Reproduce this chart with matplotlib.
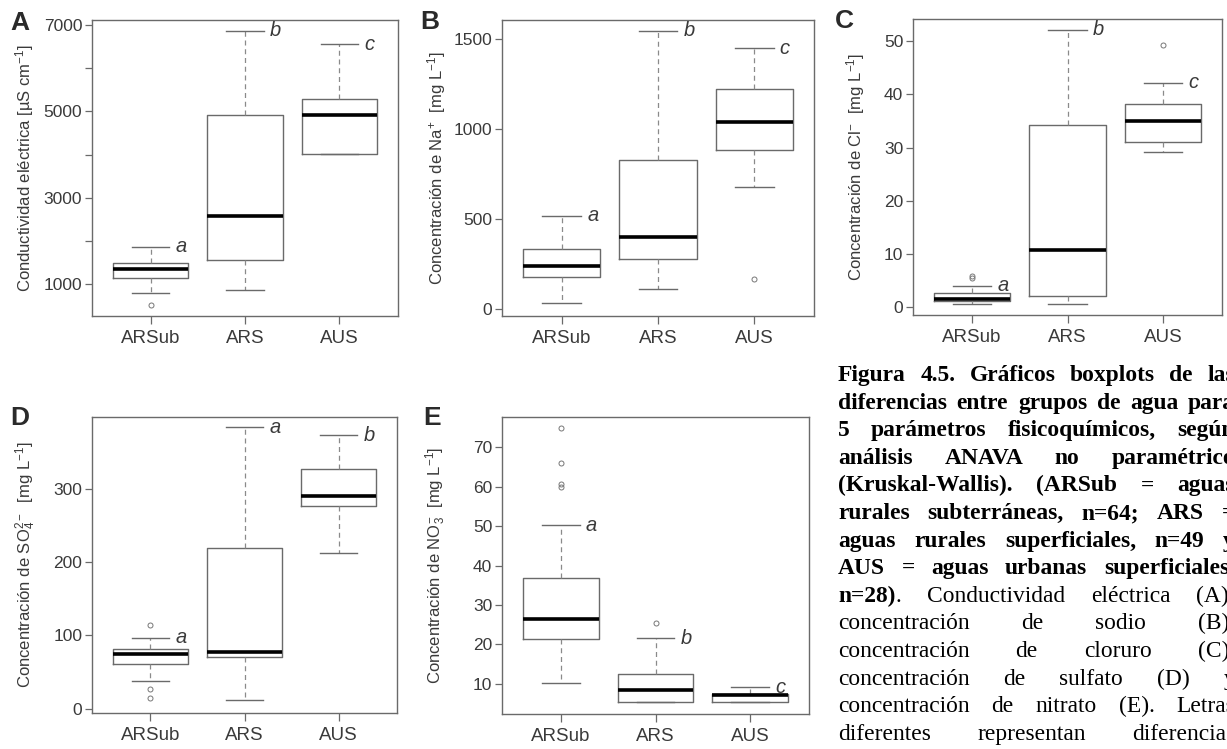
import matplotlib as mpl
mpl.use('Agg')
import matplotlib.pyplot as plt

mpl.rcParams['font.family'] = ['Liberation Sans', 'DejaVu Sans']
mpl.rcParams['mathtext.fontset'] = 'custom'
mpl.rcParams['mathtext.rm'] = 'Liberation Sans'
mpl.rcParams['mathtext.it'] = 'Liberation Sans:italic'

groups = ['ARSub', 'ARS', 'AUS']

# A - conductividad electrica
ce_lo = [799, 854, 4007]
ce_q1 = [1131, 1563, 4007]
ce_med = [1354, 2574, 4917]
ce_q3 = [1493, 4912, 5287]
ce_hi = [1863, 6868, 6553]
ce_out = [[514], [], []]
ce_let = ['a', 'b', 'c']

# B - sodio
na_lo = [33, 114, 681]
na_q1 = [181, 281, 883]
na_med = [242, 400, 1039]
na_q3 = [333, 829, 1222]
na_hi = [520, 1548, 1450]
na_out = [[], [], [167]]
na_let = ['a', 'b', 'c']

# C - cloruro
cl_lo = [0.64, 0.64, 29.1]
cl_q1 = [1.08, 2.08, 31.1]
cl_med = [1.45, 10.7, 35.1]
cl_q3 = [2.64, 34.3, 38.2]
cl_hi = [4.04, 52.2, 42.2]
cl_out = [[5.5, 5.8], [], [49.4]]
cl_let = ['a', 'b', 'c']

# D - sulfato
so4_lo = [38, 11.4, 212.5]
so4_q1 = [61, 70.7, 276]
so4_med = [75, 77.5, 289.6]
so4_q3 = [81, 219, 327]
so4_hi = [97, 384, 373]
so4_out = [[114, 27, 14], [], []]
so4_let = ['a', 'a', 'b']

# E - nitrato
no3_lo = [10.2, 5.3, 5.3]
no3_q1 = [21.4, 5.35, 5.3]
no3_med = [26.3, 8.3, 7.2]
no3_q3 = [36.7, 12.4, 7.5]
no3_hi = [50.2, 21.5, 9.15]
no3_out = [[74.9, 66.0, 60.7, 60.0], [25.5], []]
no3_let = ['a', 'b', 'c']

W, H = 1227, 749
fig = plt.figure(figsize=(W / 100, H / 100), dpi=100)
fig.patch.set_facecolor('white')

GREY = '#6a6a6a'
TXT = '#3a3a3a'


def px_axes(l, t, r, b):
    return fig.add_axes([l / W, 1 - b / H, (r - l) / W, (b - t) / H])


def panel(box, lo, q1, med, q3, hi, out, lets, ylim, yticks, ylabels, ylab, labx, tag, tagpos):
    ax = px_axes(*box)
    stats = []
    for i in range(3):
        stats.append(dict(whislo=lo[i], q1=q1[i], med=med[i], q3=q3[i], whishi=hi[i], fliers=out[i]))
    ax.bxp(stats, positions=[1, 2, 3], widths=0.8, capwidths=0.4, showfliers=True,
           boxprops=dict(color=GREY, lw=1.0),
           medianprops=dict(color='black', lw=2.6, solid_capstyle='butt'),
           whiskerprops=dict(color='#8a8a8a', lw=0.9, linestyle=(0, (4, 3))),
           capprops=dict(color=GREY, lw=1.0),
           flierprops=dict(marker='o', markersize=3.6, markerfacecolor='none',
                           markeredgecolor='#777777', markeredgewidth=0.7))
    for i in range(3):
        ax.text(i + 1 + 0.265, hi[i], lets[i], style='italic', fontsize=14.5,
                color=TXT, ha='left', va='center')
    ax.set_xlim(0.38, 3.62)
    ax.set_ylim(*ylim)
    ax.set_yticks(yticks)
    ax.set_yticklabels(ylabels)
    ax.set_xticks([1, 2, 3])
    ax.set_xticklabels(groups)
    ax.tick_params(axis='y', direction='out', length=5, width=0.9, color=GREY,
                   labelsize=12.5, labelcolor=TXT, pad=2)
    ax.tick_params(axis='x', direction='out', length=6, width=0.9, color=GREY,
                   labelsize=13.5, labelcolor=TXT, pad=4)
    for s in ax.spines.values():
        s.set_color(GREY)
        s.set_linewidth(1.0)
    ax.set_ylabel(ylab, fontsize=12, color=TXT)
    ax.yaxis.label.set_va('center')
    ax.yaxis.set_label_coords((labx - box[0]) / (box[2] - box[0]), 0.5)
    fig.text(tagpos[0] / W, 1 - tagpos[1] / H, tag, fontsize=19, fontweight='bold',
             color='#2a2a2a', ha='left', va='baseline')
    return ax


unit = r'  [mg L$^{\mathregular{-1}}$]'
panel((92, 20, 398, 316), ce_lo, ce_q1, ce_med, ce_q3, ce_hi, ce_out, ce_let,
      (260, 7115), [1000, 2000, 3000, 4000, 5000, 6000, 7000],
      ['1000', '', '3000', '', '5000', '', '7000'],
      r'Conductividad eléctrica [µS cm$^{\mathregular{-1}}$]', 25, 'A', (10, 30))
panel((502, 20, 814, 316), na_lo, na_q1, na_med, na_q3, na_hi, na_out, na_let,
      (-37, 1607), [0, 500, 1000, 1500], ['0', '500', '1000', '1500'],
      r'Concentración de Na$^{\mathregular{+}}$' + unit, 437, 'B', (420, 29))
panel((913, 19, 1222, 315), cl_lo, cl_q1, cl_med, cl_q3, cl_hi, cl_out, cl_let,
      (-1.5, 54.2), [0, 10, 20, 30, 40, 50], ['0', '10', '20', '30', '40', '50'],
      r'Concentración de Cl$^{\mathregular{-}}$' + unit, 856, 'C', (835, 28))
panel((92, 417, 397, 713), so4_lo, so4_q1, so4_med, so4_q3, so4_hi, so4_out, so4_let,
      (-6, 398), [0, 100, 200, 300], ['0', '100', '200', '300'],
      r'Concentración de SO$_{\mathregular{4}}^{\mathregular{2-}}$' + unit, 26, 'D', (10, 425))
panel((502, 417, 809, 714), no3_lo, no3_q1, no3_med, no3_q3, no3_hi, no3_out, no3_let,
      (2.3, 77.7), [10, 20, 30, 40, 50, 60, 70], ['10', '20', '30', '40', '50', '60', '70'],
      r'Concentración de NO$_{\mathregular{3}}^{\mathregular{-}}$' + unit, 436, 'E', (423, 425))

# caption (justified, runs past the right edge like the source page)
B, R = 'bold', 'normal'
caption = [
    [[('Figura', B)], [('4.5.', B)], [('Gráficos', B)], [('boxplots', B)], [('de', B)], [('las', B)]],
    [[('diferencias', B)], [('entre', B)], [('grupos', B)], [('de', B)], [('agua', B)], [('para', B)]],
    [[('5', B)], [('parámetros', B)], [('fisicoquímicos,', B)], [('según', B)]],
    [[('análisis', B)], [('ANAVA', B)], [('no', B)], [('paramétrico', B)]],
    [[('(Kruskal-Wallis).', B)], [('(ARSub', B)], [('=', B)], [('aguas', B)]],
    [[('rurales', B)], [('subterráneas,', B)], [('n=64;', B)], [('ARS', B)], [('=', B)]],
    [[('aguas', B)], [('rurales', B)], [('superficiales,', B)], [('n=49', B)], [('y', B)]],
    [[('AUS', B)], [('=', B)], [('aguas', B)], [('urbanas', B)], [('superficiales,', B)]],
    [[('n=28)', B), ('.', R)], [('Conductividad', R)], [('eléctrica', R)], [('(A),', R)]],
    [[('concentración', R)], [('de', R)], [('sodio', R)], [('(B),', R)]],
    [[('concentración', R)], [('de', R)], [('cloruro', R)], [('(C),', R)]],
    [[('concentración', R)], [('de', R)], [('sulfato', R)], [('(D)', R)], [('y', R)]],
    [[('concentración', R)], [('de', R)], [('nitrato', R)], [('(E).', R)], [('Letras', R)]],
    [[('diferentes', R)], [('representan', R)], [('diferencias', R)]],
]

cap_x0, cap_x1 = 838, 1235
cap_y0, cap_dy = 381, 27.6
cap_size = 16.9
renderer = fig.canvas.get_renderer()


def piece_width(s, w):
    t = fig.text(0, 0, s, fontsize=cap_size, fontweight=w, family='Liberation Serif')
    wd = t.get_window_extent(renderer=renderer).width
    t.remove()
    return wd


for k, line in enumerate(caption):
    y = 1 - (cap_y0 + k * cap_dy) / H
    widths = [[piece_width(s, w) for s, w in word] for word in line]
    total = sum(sum(ws) for ws in widths)
    gap = (cap_x1 - cap_x0 - total) / (len(line) - 1)
    x = cap_x0
    for word, ws in zip(line, widths):
        for (s, w), wd in zip(word, ws):
            fig.text(x / W, y, s, fontsize=cap_size, fontweight=w, family='Liberation Serif',
                     color='black', ha='left', va='baseline')
            x += wd
        x += gap

fig.savefig('out.png', dpi=100, facecolor='white')
